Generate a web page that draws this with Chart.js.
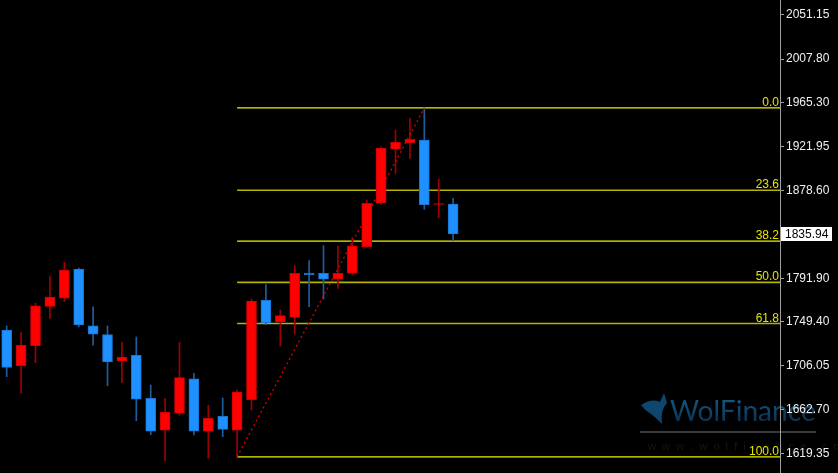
<!DOCTYPE html>
<html>
<head>
<meta charset="utf-8">
<script src="https://cdn.jsdelivr.net/npm/chart.js@4.4.0/dist/chart.umd.min.js"></script>
<style>
	html, body { margin:0; padding:0; background:#000; }
	#wrap { width:838px; height:473px; }
</style>
</head>
<body>
<div id="wrap"><canvas id="chart" width="838" height="473"></canvas></div>
<script>
// candles (oldest first)
var opens  = [1741.3, 1706.2, 1725.9, 1764.6, 1772.5, 1801.3, 1745.5, 1736.7, 1710.8, 1716.4, 1674.1, 1642.7, 1659.4, 1693.4, 1641.7, 1656.4,
              1642.7, 1672.8, 1770.5, 1749.2, 1753.8, 1797.4, 1797.1, 1791.2, 1797.1, 1823.2, 1866.2, 1919.3, 1925.5, 1928.2, 1864.8, 1865.2];
var highs  = [1745.3, 1738.7, 1767.6, 1794.4, 1807.9, 1802.3, 1764.2, 1745.3, 1729.2, 1734.4, 1687.2, 1674.1, 1729.2, 1698.7, 1667.3, 1674.4,
              1682.3, 1771.8, 1785.9, 1761.0, 1804.6, 1809.5, 1824.2, 1823.9, 1832.5, 1869.2, 1921.6, 1938.0, 1949.5, 1959.7, 1889.8, 1870.9];
var lows   = [1695.4, 1679.1, 1709.2, 1752.8, 1769.2, 1744.3, 1726.3, 1686.5, 1689.5, 1652.1, 1638.3, 1612.5, 1657.4, 1638.0, 1615.1, 1636.4,
              1616.7, 1662.6, 1746.2, 1725.6, 1737.4, 1764.2, 1771.8, 1782.3, 1795.4, 1822.5, 1865.2, 1895.4, 1910.2, 1860.0, 1851.5, 1829.2];
var closes = [1704.6, 1726.3, 1765.2, 1773.8, 1800.3, 1746.2, 1737.1, 1709.8, 1714.8, 1673.4, 1641.7, 1660.4, 1694.4, 1641.7, 1654.5, 1643.6,
              1680.3, 1769.8, 1748.5, 1755.4, 1797.1, 1795.4, 1791.2, 1797.1, 1823.9, 1865.9, 1920.0, 1925.9, 1928.9, 1864.6, 1865.7, 1835.94];

// fibonacci retracement, drawn from candle 16 low to candle 29 high
var fibLevels = [0.0, 23.6, 38.2, 50.0, 61.8, 100.0];
var fibFrom = 16, fibTo = 29;
var fibHigh = 1959.7, fibLow = 1616.6;

var yTicks = [2051.15, 2007.80, 1965.30, 1921.95, 1878.60, 1835.25, 1791.90, 1749.40, 1706.05, 1662.70, 1619.35];
var lastPrice = 1835.94;

var X_MIN = -0.465, X_MAX = 53.7;
var Y_MIN = 1600.66, Y_MAX = 2065.9;

var BULL = "#ff0000", BULL_EDGE = "#d00000", BULL_WICK = "#a00000";
var BEAR = "#1e90ff", BEAR_EDGE = "#1874d0", BEAR_WICK = "#1c5f9e";
var FONT = "Liberation Sans, Arial, sans-serif";

var bodyData = [], wickData = [], bodyFill = [], bodyEdge = [], wickFill = [];
for (var i = 0; i < opens.length; i++)
{
	var up = closes[i] >= opens[i];
	bodyData.push({x: i, y: [opens[i], closes[i]]});
	wickData.push({x: i, y: [lows[i], highs[i]]});
	bodyFill.push(up ? BULL : BEAR);
	bodyEdge.push(up ? BULL_EDGE : BEAR_EDGE);
	wickFill.push(up ? BULL_WICK : BEAR_WICK);
}

var fibPrice = function(p) { return fibHigh - (fibHigh - fibLow) * p / 100; };

var datasets = [
	{label: "body", data: bodyData, backgroundColor: bodyFill, borderColor: bodyEdge, borderWidth: 1,
		borderSkipped: false, barThickness: 10, grouped: false, order: 0},
	{label: "wick", data: wickData, backgroundColor: wickFill, borderWidth: 0,
		barThickness: 1, grouped: false, order: 2},
	{type: "line", label: "trend", data: [{x: fibFrom, y: fibLow}, {x: fibTo, y: fibHigh}],
		borderColor: "#d80000", borderWidth: 1.3, borderDash: [2, 3], pointRadius: 0, order: 1}
];
fibLevels.forEach(function(p)
{
	var thick = (p == 23.6 || p == 50.0 || p == 61.8);
	datasets.push({type: "line", label: "fib " + p, data: [{x: fibFrom, y: fibPrice(p)}, {x: X_MAX, y: fibPrice(p)}],
		borderColor: thick ? "#b4b400" : "#f0f000", borderWidth: thick ? 1.6 : 1.2, pointRadius: 0, order: 3});
});

var background = {
	id: "background",
	beforeDraw: function(chart)
	{
		var c = chart.ctx;
		c.save();
		c.fillStyle = "#000";
		c.fillRect(0, 0, chart.width, chart.height);

		// watermark
		c.fillStyle = "#0f4670";
		c.beginPath();
		c.moveTo(641, 405);
		c.quadraticCurveTo(652, 398, 660, 402);
		c.lineTo(664, 393);
		c.lineTo(667, 403);
		c.quadraticCurveTo(660, 410, 662, 424);
		c.quadraticCurveTo(652, 414, 648, 412);
		c.quadraticCurveTo(644, 409, 641, 405);
		c.fill();
		var g = c.createLinearGradient(0, 400, 0, 422);
		g.addColorStop(0, "#15557f");
		g.addColorStop(1, "#0a3252");
		c.fillStyle = g;
		c.font = "26px Lato, sans-serif";
		var w = c.measureText("WolFinance").width;
		c.font = (26 * 146 / w).toFixed(1) + "px Lato, sans-serif";
		c.textBaseline = "alphabetic";
		c.fillText("WolFinance", 670, 421);
		c.fillStyle = "#3a3a3a";
		c.fillRect(640, 431, 176, 2);
		c.fillStyle = "#161616";
		c.font = "11px " + FONT;
		c.fillText("w  w  w  .  w  o  l  f  i  n  a  n  c  e  .  c  o  m", 648, 450);
		c.restore();
	},
	afterDraw: function(chart)
	{
		var c = chart.ctx, ys = chart.scales.y, right = chart.chartArea.right;
		c.save();
		c.font = "12px " + FONT;
		c.fillStyle = "#e4e400";
		c.textAlign = "right";
		c.textBaseline = "alphabetic";
		fibLevels.forEach(function(p)
		{
			var y = ys.getPixelForValue(fibPrice(p));
			c.fillText(p.toFixed(1), right - 1, Math.round(y) - 2);
		});
		// current price box
		var py = Math.round(ys.getPixelForValue(lastPrice));
		c.fillStyle = "#ffffff";
		c.fillRect(right + 1, py - 7, 51, 14);
		c.fillStyle = "#000";
		c.textAlign = "left";
		c.textBaseline = "middle";
		c.fillText(lastPrice.toFixed(2), right + 5, py + 0.5);
		c.restore();
	}
};

var chart = new Chart(document.getElementById("chart"), {
	type: "bar",
	data: {datasets: datasets},
	plugins: [background],
	options: {
		responsive: false,
		animation: false,
		layout: {padding: 0},
		plugins: {legend: {display: false}, tooltip: {enabled: false}},
		scales: {
			x: {type: "linear", min: X_MIN, max: X_MAX, display: false, offset: false},
			y: {
				position: "right", min: Y_MIN, max: Y_MAX,
				afterBuildTicks: function(s) { s.ticks = yTicks.map(function(v) { return {value: v}; }); },
				afterFit: function(s) { s.width = 58; s.paddingTop = 0; s.paddingBottom = 0; },
				ticks: {color: "#f0f0f0", font: {family: FONT, size: 12}, padding: 2,
					callback: function(v) { return Number(v).toFixed(2); }},
				grid: {drawOnChartArea: false, tickLength: 4, color: "#a0a0a0"},
				border: {color: "#a0a0a0"}
			}
		}
	}
});
</script>
</body>
</html>
